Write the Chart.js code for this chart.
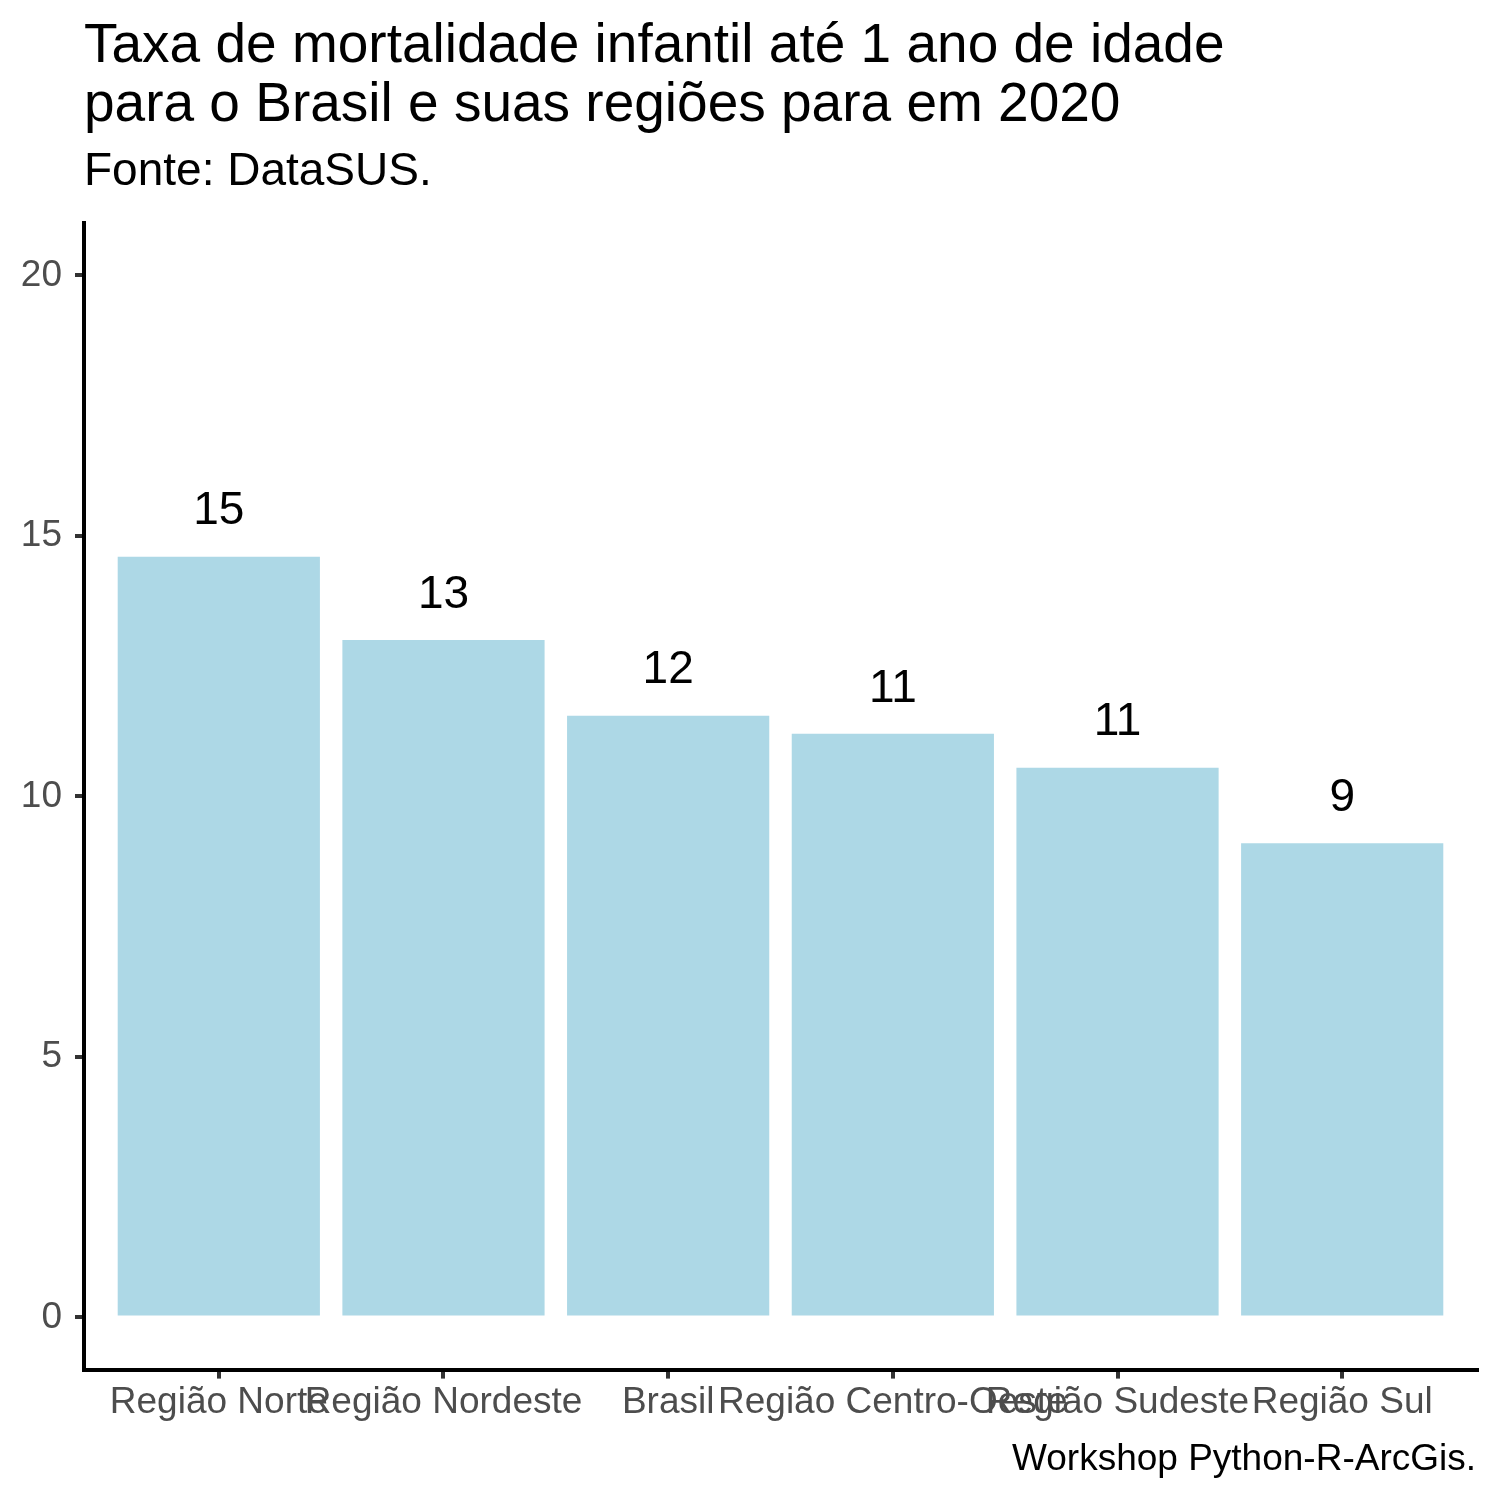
<!DOCTYPE html>
<html><head><meta charset="utf-8">
<script src="https://cdn.jsdelivr.net/npm/chart.js@4"></script>
<style>html,body{margin:0;padding:0;background:#fff}canvas{display:block}</style>
</head><body>
<canvas id="c" width="1500" height="1500"></canvas>
<script>
const categories = ['Região Norte', 'Região Nordeste', 'Brasil', 'Região Centro-Oeste', 'Região Sudeste', 'Região Sul'];
const values = [14.6, 13.0, 11.55, 11.2, 10.55, 9.1];
const valueLabels = ['15', '13', '12', '11', '11', '9'];
const yTicks = [0, 5, 10, 15, 20];
const titleLines = ['Taxa de mortalidade infantil até 1 ano de idade', 'para o Brasil e suas regiões para em 2020'];
const subtitleText = 'Fonte: DataSUS.';
const captionText = 'Workshop Python-R-ArcGis.';
const FONT = "'Liberation Sans', Arial, Helvetica, sans-serif";

const labelPlugin = {
  id: 'valueLabels',
  afterDatasetsDraw(chart) {
    const {ctx, scales: {x, y}} = chart;
    ctx.save();
    ctx.font = '46px ' + FONT;
    ctx.fillStyle = '#000';
    ctx.textAlign = 'center';
    ctx.textBaseline = 'alphabetic';
    values.forEach((v, i) => ctx.fillText(valueLabels[i], x.getPixelForValue(i), y.getPixelForValue(v + 0.62)));
    ctx.restore();
  }
};
const captionPlugin = {
  id: 'caption',
  afterDraw(chart) {
    const {ctx, chartArea} = chart;
    ctx.save();
    ctx.font = '37px ' + FONT;
    ctx.fillStyle = '#000';
    ctx.textAlign = 'right';
    ctx.textBaseline = 'alphabetic';
    ctx.fillText(captionText, chartArea.right - 1, chart.height - 30);
    ctx.restore();
  }
};

const axisGrid = {display: true, drawOnChartArea: false, drawTicks: true, tickLength: 9, color: '#333333', lineWidth: 4, offset: false};
const axisBorder = {display: true, color: '#000000', width: 4};

new Chart(document.getElementById('c'), {
  type: 'bar',
  data: {
    datasets: [{
      data: values.map((v, i) => ({x: i, y: v})),
      backgroundColor: '#ADD8E6',
      borderWidth: 0,
      barPercentage: 0.9,
      categoryPercentage: 1.0
    }]
  },
  options: {
    responsive: false,
    animation: false,
    devicePixelRatio: 1,
    layout: {padding: {left: 0, right: 23, top: 0, bottom: 73}},
    plugins: {
      legend: {display: false},
      tooltip: {enabled: false},
      title: {display: true, text: titleLines, align: 'start', fullSize: false, color: '#000',
        font: {family: FONT, size: 55, weight: 'normal', lineHeight: 59 / 55}, padding: {top: 17, bottom: 4}},
      subtitle: {display: true, text: subtitleText, align: 'start', fullSize: false, color: '#000',
        font: {family: FONT, size: 46, weight: 'normal', lineHeight: 1.2}, padding: {top: 6, bottom: 23}}
    },
    scales: {
      x: {
        type: 'linear', min: -0.6, max: 5.6, offset: false,
        afterBuildTicks: s => { s.ticks = categories.map((c, i) => ({value: i})); },
        ticks: {autoSkip: false, maxRotation: 0, minRotation: 0, callback: v => categories[v],
          font: {family: FONT, size: 37}, color: '#4D4D4D', padding: 2},
        grid: axisGrid,
        border: axisBorder
      },
      y: {
        min: -1, max: 21,
        afterBuildTicks: s => { s.ticks = yTicks.map(v => ({value: v})); },
        afterFit: s => { s.width = 84; },
        ticks: {font: {family: FONT, size: 37}, color: '#4D4D4D', padding: 13},
        grid: axisGrid,
        border: axisBorder
      }
    }
  },
  plugins: [labelPlugin, captionPlugin]
});
</script>
</body></html>
